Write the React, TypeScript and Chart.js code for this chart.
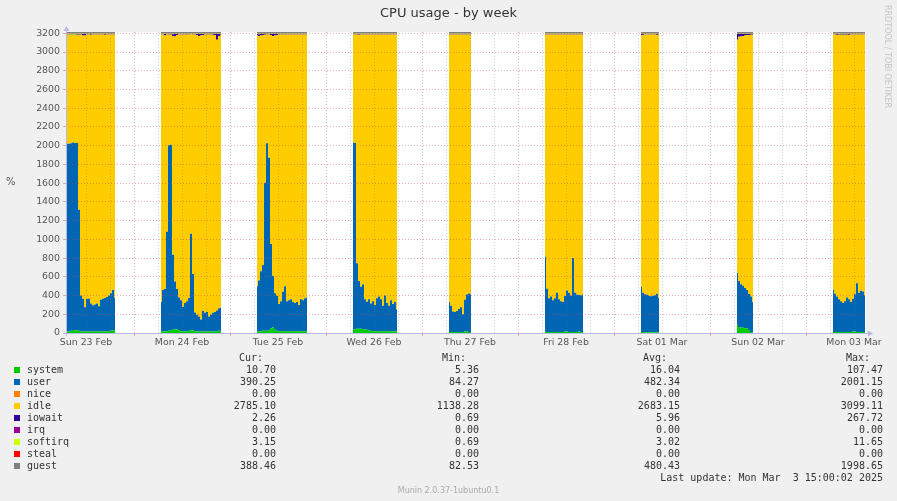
import React, { useEffect, useRef } from 'react';
import { Chart, registerables } from 'chart.js';

Chart.register(...registerables);

// ---- axis / tick labels ----
const dayLabels = ['Sun 23 Feb', 'Mon 24 Feb', 'Tue 25 Feb', 'Wed 26 Feb', 'Thu 27 Feb', 'Fri 28 Feb', 'Sat 01 Mar', 'Sun 02 Mar', 'Mon 03 Mar'];
// x in hours since Sun 23 Feb 00:00
const xMinHour = 7;
const xMaxHour = 207;
const xTickStepHours = 6;
const yMax = 3214;
const yTickStep = 100;
const yLabelStep = 200;

// ---- data: blocks of 30-minute samples (gaps = no data) ----
const blockStart = [7.25, 30.75, 54.75, 78.75, 102.75, 126.75, 150.75, 174.75, 198.75];
const stepHours = 0.5;

const systemVals = [
  [20, 20, 25, 25, 30, 30, 25, 20, 15, 15, 15, 15, 15, 15, 15, 15, 15, 15, 15, 15, 15, 20, 25, 30, 25],
  [20, 20, 20, 20, 25, 30, 35, 40, 40, 30, 20, 20, 20, 20, 25, 30, 30, 20, 15, 15, 15, 15, 15, 15, 15, 15, 15, 15, 20, 25, 20],
  [20, 20, 20, 25, 25, 25, 30, 50, 60, 35, 25, 20, 20, 20, 20, 20, 20, 20, 20, 20, 20, 20, 20, 20, 20, 20],
  [35, 40, 45, 45, 45, 40, 40, 35, 30, 25, 20, 20, 20, 20, 20, 20, 20, 20, 20, 20, 20, 20, 20],
  [10, 10, 10, 10, 10, 10, 10, 10, 15, 15, 12, 10],
  [15, 12, 10, 10, 10, 10, 10, 10, 10, 10, 15, 15, 10, 10, 10, 10, 12, 15, 12, 10],
  [12, 10, 8, 8, 8, 8, 8, 8, 8, 8],
  [90, 65, 60, 55, 50, 50, 30, 10, 8],
  [12, 10, 10, 10, 10, 10, 10, 10, 10, 12, 15, 15, 12, 10, 12, 12, 11],
];

const userVals = [
  [2000, 2000, 2000, 2010, 2000, 2000, 1290, 380, 350, 260, 350, 350, 300, 280, 290, 300, 270, 340, 350, 360, 370, 380, 400, 430, 350],
  [310, 440, 450, 1060, 1980, 1980, 800, 510, 430, 350, 330, 260, 300, 320, 350, 1030, 600, 200, 180, 160, 130, 220, 200, 210, 160, 180, 200, 210, 220, 240, 250],
  [480, 540, 640, 700, 1580, 2000, 1840, 900, 550, 390, 370, 290, 320, 420, 480, 320, 330, 340, 310, 300, 310, 280, 340, 330, 350, 360],
  [2000, 1990, 700, 510, 450, 480, 320, 300, 330, 290, 320, 280, 350, 370, 340, 270, 380, 300, 270, 330, 290, 310, 230],
  [320, 280, 220, 215, 225, 245, 265, 190, 340, 395, 410, 400],
  [800, 460, 360, 380, 340, 360, 420, 350, 330, 320, 380, 440, 420, 390, 790, 420, 400, 390, 390, 400],
  [480, 420, 405, 400, 390, 385, 390, 395, 410, 365],
  [550, 490, 460, 450, 430, 410, 390, 380, 320],
  [450, 410, 380, 350, 330, 310, 330, 370, 350, 320, 350, 400, 520, 420, 440, 430, 390],
];

const idleVals = [
  [1160, 1161, 1156, 1144, 1149, 1151, 1867, 2785, 2812, 2902, 2821, 2822, 2870, 2891, 2882, 2871, 2902, 2831, 2822, 2809, 2801, 2787, 2762, 2726, 2812],
  [2857, 2726, 2707, 2106, 1180, 1175, 2336, 2617, 2712, 2806, 2837, 2906, 2867, 2847, 2811, 2126, 2556, 2967, 2987, 2997, 3032, 2947, 2971, 2962, 3012, 2991, 2969, 2957, 2892, 2907, 2914],
  [2676, 2611, 2517, 2457, 1579, 1161, 1316, 2232, 2562, 2752, 2787, 2876, 2847, 2747, 2687, 2846, 2837, 2827, 2856, 2867, 2857, 2886, 2827, 2837, 2817, 2806],
  [1152, 1157, 2441, 2629, 2691, 2667, 2826, 2852, 2827, 2871, 2847, 2887, 2816, 2797, 2827, 2896, 2787, 2867, 2896, 2837, 2877, 2856, 2937],
  [2857, 2897, 2956, 2962, 2952, 2931, 2912, 2987, 2832, 2776, 2765, 2777],
  [2371, 2715, 2817, 2796, 2837, 2817, 2756, 2827, 2847, 2856, 2792, 2732, 2756, 2787, 2387, 2756, 2775, 2782, 2784, 2777],
  [2685, 2751, 2773, 2779, 2789, 2794, 2789, 2783, 2763, 2813],
  [2492, 2607, 2647, 2667, 2697, 2720, 2762, 2794, 2856],
  [2725, 2767, 2793, 2822, 2842, 2861, 2842, 2802, 2823, 2855, 2822, 2771, 2655, 2757, 2734, 2745, 2789],
];

const iowaitVals = [
  [5, 4, 4, 5, 6, 5, 5, 6, 15, 15, 6, 5, 7, 6, 5, 6, 5, 6, 5, 8, 6, 5, 5, 6, 5],
  [5, 6, 15, 6, 5, 5, 20, 25, 10, 6, 5, 6, 5, 5, 6, 5, 6, 5, 10, 20, 15, 10, 6, 5, 5, 6, 8, 10, 60, 20, 8],
  [15, 20, 15, 10, 8, 6, 6, 10, 20, 15, 10, 6, 5, 5, 5, 6, 5, 5, 6, 5, 5, 6, 5, 5, 5, 6],
  [5, 5, 6, 8, 6, 5, 6, 5, 5, 6, 5, 5, 6, 5, 5, 6, 5, 5, 6, 5, 5, 6, 5],
  [5, 5, 6, 5, 5, 6, 5, 5, 5, 6, 5, 5],
  [6, 5, 5, 6, 5, 5, 6, 5, 5, 6, 5, 5, 6, 5, 5, 6, 5, 5, 6, 5],
  [15, 8, 6, 5, 5, 5, 5, 6, 8, 6],
  [60, 30, 25, 20, 15, 12, 10, 8, 8],
  [5, 5, 6, 5, 5, 6, 5, 5, 6, 5, 5, 6, 5, 5, 6, 5, 2],
];

const softirqVals = [
  [10, 10, 10, 11, 10, 9, 8, 4, 3, 3, 3, 3, 3, 3, 3, 3, 3, 3, 3, 3, 3, 3, 3, 3, 3],
  [3, 3, 3, 3, 5, 5, 4, 3, 3, 3, 3, 3, 3, 3, 3, 4, 3, 3, 3, 3, 3, 3, 3, 3, 3, 3, 3, 3, 3, 3, 3],
  [4, 4, 3, 3, 3, 3, 3, 3, 3, 3, 3, 3, 3, 3, 3, 3, 3, 3, 3, 3, 3, 3, 3, 3, 3, 3],
  [3, 3, 3, 3, 3, 3, 3, 3, 3, 3, 3, 3, 3, 3, 3, 3, 3, 3, 3, 3, 3, 3, 3],
  [3, 3, 3, 3, 3, 3, 3, 3, 3, 3, 3, 3],
  [3, 3, 3, 3, 3, 3, 3, 3, 3, 3, 3, 3, 3, 3, 3, 3, 3, 3, 3, 3],
  [3, 6, 3, 3, 3, 3, 3, 3, 6, 3],
  [3, 3, 3, 3, 3, 3, 3, 3, 3],
  [3, 3, 6, 8, 8, 8, 8, 8, 6, 3, 3, 3, 3, 3, 3, 3, 3],
];

// guest tracks user almost exactly (see legend); stacked on top it is clipped at the graph's upper limit
const guestVals = userVals;

// ---- legend ----
const seriesNames = ['system', 'user', 'nice', 'idle', 'iowait', 'irq', 'softirq', 'steal', 'guest'];
const seriesColors = ['#00cc00', '#0066b3', '#ff8000', '#ffcc00', '#330099', '#990099', '#ccff00', '#ff0000', '#808080'];
const curVals = ['10.70', '390.25', '0.00', '2785.10', '2.26', '0.00', '3.15', '0.00', '388.46'];
const minVals = ['5.36', '84.27', '0.00', '1138.28', '0.69', '0.00', '0.69', '0.00', '82.53'];
const avgVals = ['16.04', '482.34', '0.00', '2683.15', '5.96', '0.00', '3.02', '0.00', '480.43'];
const maxVals = ['107.47', '2001.15', '0.00', '3099.11', '267.72', '0.00', '11.65', '0.00', '1998.65'];

const MAJOR = 'rgba(205, 70, 70, 0.45)';
const MINOR = 'rgba(120, 120, 120, 0.35)';
const AXIS = '#b8b8ee';

function toPoints(blocks: number[][]) {
  const pts: { x: number; y: number | null }[] = [];
  blocks.forEach((vals, b) => {
    vals.forEach((v, i) => pts.push({ x: blockStart[b] + i * stepHours, y: v }));
    if (b < blocks.length - 1) pts.push({ x: blockStart[b] + vals.length * stepHours, y: null });
  });
  return pts;
}

const framePlugin = {
  id: 'frame',
  beforeDraw(chart: any) {
    const { ctx, chartArea: a } = chart;
    ctx.save();
    ctx.fillStyle = '#ffffff';
    ctx.fillRect(a.left, a.top, a.right - a.left, a.bottom - a.top);
    ctx.restore();
  },
  afterDraw(chart: any) {
    const { ctx, chartArea: a } = chart;
    ctx.save();
    ctx.strokeStyle = AXIS;
    ctx.fillStyle = AXIS;
    ctx.lineWidth = 1;
    const yb = Math.round(a.bottom) + 0.5;
    const xl = Math.round(a.left) + 0.5;
    ctx.beginPath();
    ctx.moveTo(a.left - 3, yb);
    ctx.lineTo(a.right + 3, yb);
    ctx.moveTo(xl, a.bottom + 3);
    ctx.lineTo(xl, a.top - 3);
    ctx.stroke();
    ctx.beginPath();
    ctx.moveTo(a.right + 2, yb - 3);
    ctx.lineTo(a.right + 7, yb);
    ctx.lineTo(a.right + 2, yb + 3);
    ctx.closePath();
    ctx.fill();
    ctx.beginPath();
    ctx.moveTo(xl - 3, a.top - 1);
    ctx.lineTo(xl, a.top - 6);
    ctx.lineTo(xl + 3, a.top - 1);
    ctx.closePath();
    ctx.fill();
    ctx.restore();
  },
};

const chartSeries = [
  { label: 'system', data: systemVals, color: seriesColors[0] },
  { label: 'user', data: userVals, color: seriesColors[1] },
  { label: 'idle', data: idleVals, color: seriesColors[3] },
  { label: 'iowait', data: iowaitVals, color: seriesColors[4] },
  { label: 'softirq', data: softirqVals, color: seriesColors[6] },
  { label: 'guest', data: guestVals, color: seriesColors[8] },
];

const mono: React.CSSProperties = {
  position: 'absolute',
  fontFamily: '"DejaVu Sans Mono", monospace',
  fontSize: 10,
  lineHeight: '12px',
  color: '#333',
  whiteSpace: 'pre',
};

export default function App() {
  const ref = useRef<HTMLCanvasElement>(null);

  useEffect(() => {
    const tickFont = { family: '"DejaVu Sans"', size: 9.4 };
    const chart = new Chart(ref.current as HTMLCanvasElement, {
      type: 'line',
      data: {
        datasets: chartSeries.map((s, i) => ({
          label: s.label,
          data: toPoints(s.data),
          backgroundColor: s.color,
          borderColor: s.color,
          borderWidth: 0,
          pointRadius: 0,
          fill: i === 0 ? 'origin' : '-1',
          spanGaps: false,
          stepped: 'middle',
        })),
      } as any,
      options: {
        animation: false,
        responsive: false,
        devicePixelRatio: 1,
        events: [],
        layout: { padding: { left: 0, right: 31, top: 32, bottom: 0 } },
        plugins: { legend: { display: false }, tooltip: { enabled: false }, title: { display: false } },
        scales: {
          x: {
            type: 'linear',
            min: xMinHour,
            max: xMaxHour,
            afterBuildTicks: (s: any) => {
              const t = [];
              for (let h = Math.ceil(xMinHour / xTickStepHours) * xTickStepHours; h <= xMaxHour; h += xTickStepHours) t.push({ value: h });
              s.ticks = t;
            },
            afterFit: (s: any) => { s.height = 22; },
            grid: {
              z: 1,
              color: (c: any) => (c.tick && c.tick.value % 24 === 0 ? MAJOR : MINOR),
              drawTicks: true,
              tickLength: 3,
              tickColor: (c: any) => (c.tick && c.tick.value % 24 === 0 ? MAJOR : 'rgba(0,0,0,0)'),
            },
            border: { display: false, dash: [1, 2] },
            ticks: {
              autoSkip: false,
              maxRotation: 0,
              padding: 1,
              color: '#555',
              font: tickFont,
              callback: (v: any) => (v % 24 === 12 ? dayLabels[(v - 12) / 24] : ''),
            },
          },
          y: {
            stacked: true,
            min: 0,
            max: yMax,
            afterBuildTicks: (s: any) => {
              const t = [];
              for (let v = 0; v <= yMax; v += yTickStep) t.push({ value: v });
              s.ticks = t;
            },
            afterFit: (s: any) => { s.width = 66; },
            grid: {
              z: 1,
              color: (c: any) => (c.tick && c.tick.value % yLabelStep === 0 ? MAJOR : MINOR),
              drawTicks: true,
              tickLength: 3,
            },
            border: { display: false, dash: [1, 2] },
            ticks: {
              padding: 3,
              color: '#555',
              font: tickFont,
              callback: (v: any) => (v % yLabelStep === 0 ? String(v) : ''),
            },
          },
        },
      } as any,
      plugins: [framePlugin],
    });
    return () => chart.destroy();
  }, []);

  const colRight = [276, 479, 680, 883];
  const headRight = [263, 466, 667, 870];
  const heads = ['Cur:', 'Min:', 'Avg:', 'Max:'];
  const cols = [curVals, minVals, avgVals, maxVals];

  return (
    <div style={{ position: 'absolute', left: 0, top: 0, width: 897, height: 501, background: '#f0f0f0', overflow: 'hidden' }}>
      <canvas ref={ref} width={897} height={355} style={{ position: 'absolute', left: 0, top: 0, width: 897, height: 355 }} />
      <div style={{ position: 'absolute', left: 0, top: 5, width: 897, textAlign: 'center', fontFamily: '"DejaVu Sans"', fontSize: 13, lineHeight: '16px', color: '#333' }}>
        CPU usage - by week
      </div>
      <div style={{ position: 'absolute', left: 6, top: 176, fontFamily: '"DejaVu Sans"', fontSize: 10, lineHeight: '12px', color: '#555' }}>%</div>
      <div style={{ position: 'absolute', left: 892, top: 5, transformOrigin: 'top left', transform: 'rotate(90deg)', fontFamily: '"DejaVu Sans"', fontSize: 8, lineHeight: '10px', color: '#c4c4c4', whiteSpace: 'nowrap' }}>
        RRDTOOL / TOBI OETIKER
      </div>
      {heads.map((h, j) => (
        <div key={h} style={{ ...mono, top: 352, right: 897 - headRight[j] }}>{h}</div>
      ))}
      {seriesNames.map((n, i) => (
        <React.Fragment key={n}>
          <div style={{ position: 'absolute', left: 14, top: 367 + i * 12, width: 6, height: 6, background: seriesColors[i] }} />
          <div style={{ ...mono, left: 27, top: 364 + i * 12 }}>{n}</div>
          {cols.map((c, j) => (
            <div key={j} style={{ ...mono, top: 364 + i * 12, right: 897 - colRight[j] }}>{c[i]}</div>
          ))}
        </React.Fragment>
      ))}
      <div style={{ ...mono, top: 472, right: 897 - 883 }}>{'Last update: Mon Mar  3 15:00:02 2025'}</div>
      <div style={{ position: 'absolute', left: 0, top: 486, width: 897, textAlign: 'center', fontFamily: '"DejaVu Sans"', fontSize: 8, lineHeight: '10px', color: '#aaa' }}>
        Munin 2.0.37-1ubuntu0.1
      </div>
    </div>
  );
}
